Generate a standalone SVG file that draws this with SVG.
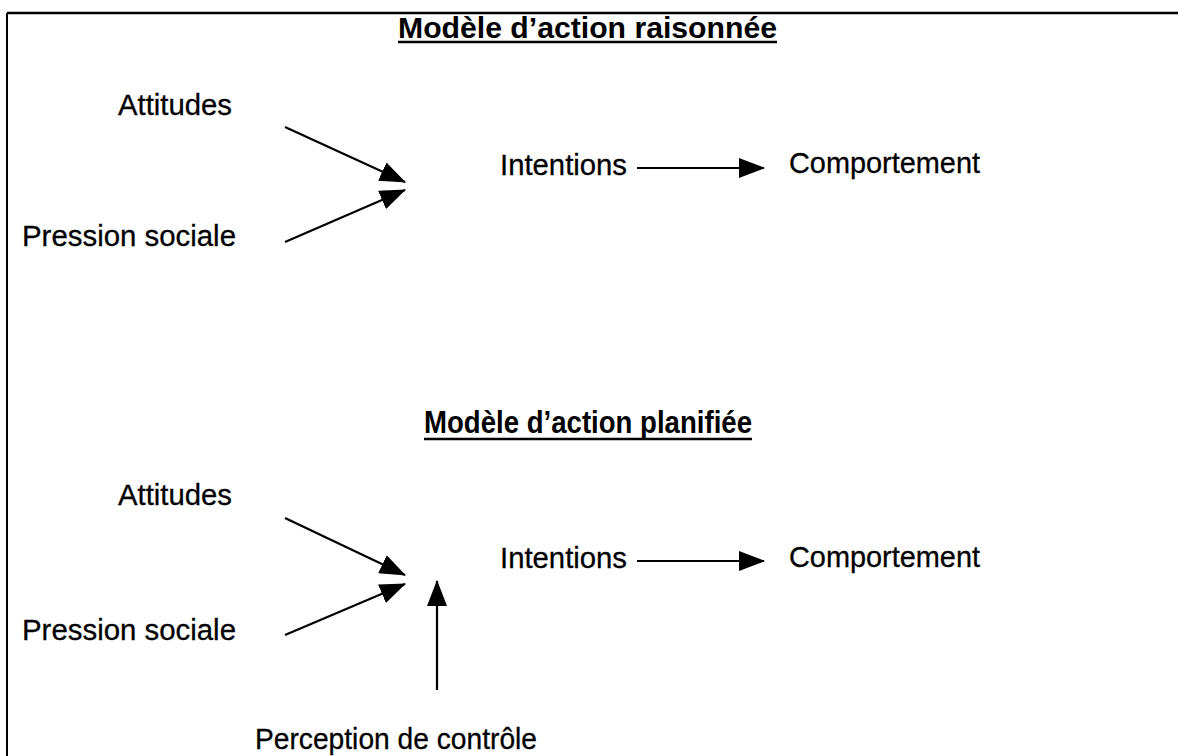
<svg xmlns="http://www.w3.org/2000/svg" width="1178" height="756" viewBox="0 0 1178 756">
<style>
.t{font-family:"Liberation Sans",Arial,sans-serif;font-size:30px;fill:#000;stroke:#000;stroke-width:0.3}
.h{font-family:"Liberation Sans",Arial,sans-serif;font-size:29px;font-weight:bold;fill:#000}
.h2{font-family:"Liberation Sans",Arial,sans-serif;font-size:31px;font-weight:bold;fill:#000}
.u{stroke:#000;stroke-width:2.5}
.c{stroke:#000;stroke-width:2.2;fill:none}
</style>
<defs>
<marker id="ah" markerWidth="26" markerHeight="20" refX="25" refY="10" orient="auto" markerUnits="userSpaceOnUse">
<path d="M0,0 L26,10 L0,20 Z" fill="#000"/>
</marker>
</defs>
<rect width="1178" height="756" fill="#fff"/>
<g id="frame">
<line x1="7" y1="13" x2="1178" y2="13" stroke="#000" stroke-width="2.5"/>
<line x1="7" y1="13" x2="7" y2="756" stroke="#000" stroke-width="2"/>
</g>
<g id="title1"><text class="h" x="398" y="38" textLength="379" lengthAdjust="spacingAndGlyphs">Modèle d’action raisonnée</text><line class="u" x1="398" y1="42" x2="777" y2="42"/></g>
<g id="attitudes1"><text class="t" x="118" y="115" textLength="114" lengthAdjust="spacingAndGlyphs">Attitudes</text></g>
<g id="pression1"><text class="t" x="22" y="246" textLength="214" lengthAdjust="spacingAndGlyphs">Pression sociale</text></g>
<g id="intentions1"><text class="t" x="500" y="175" textLength="127" lengthAdjust="spacingAndGlyphs">Intentions</text></g>
<g id="comportement1"><text class="t" x="789" y="173" textLength="191" lengthAdjust="spacingAndGlyphs">Comportement</text></g>
<g id="title2"><text class="h2" x="424" y="433" textLength="328" lengthAdjust="spacingAndGlyphs">Modèle d’action planifiée</text><line class="u" x1="424" y1="439" x2="752" y2="439"/></g>
<g id="attitudes2"><text class="t" x="118" y="505" textLength="114" lengthAdjust="spacingAndGlyphs">Attitudes</text></g>
<g id="pression2"><text class="t" x="22" y="640" textLength="214" lengthAdjust="spacingAndGlyphs">Pression sociale</text></g>
<g id="intentions2"><text class="t" x="500" y="568" textLength="127" lengthAdjust="spacingAndGlyphs">Intentions</text></g>
<g id="comportement2"><text class="t" x="789" y="567" textLength="191" lengthAdjust="spacingAndGlyphs">Comportement</text></g>
<g id="perception"><text class="t" x="255" y="749" textLength="282" lengthAdjust="spacingAndGlyphs">Perception de contrôle</text></g>
<g id="connectors">
<line class="c" x1="285" y1="127" x2="405" y2="182" marker-end="url(#ah)"/>
<line class="c" x1="285" y1="242" x2="405" y2="190" marker-end="url(#ah)"/>
<line class="c" x1="637" y1="168" x2="764" y2="168" marker-end="url(#ah)"/>
<line class="c" x1="285" y1="518" x2="405" y2="575" marker-end="url(#ah)"/>
<line class="c" x1="285" y1="635" x2="405" y2="584" marker-end="url(#ah)"/>
<line class="c" x1="637" y1="561" x2="764" y2="561" marker-end="url(#ah)"/>
<line class="c" x1="437" y1="690" x2="437" y2="581" marker-end="url(#ah)"/>
</g>
</svg>
